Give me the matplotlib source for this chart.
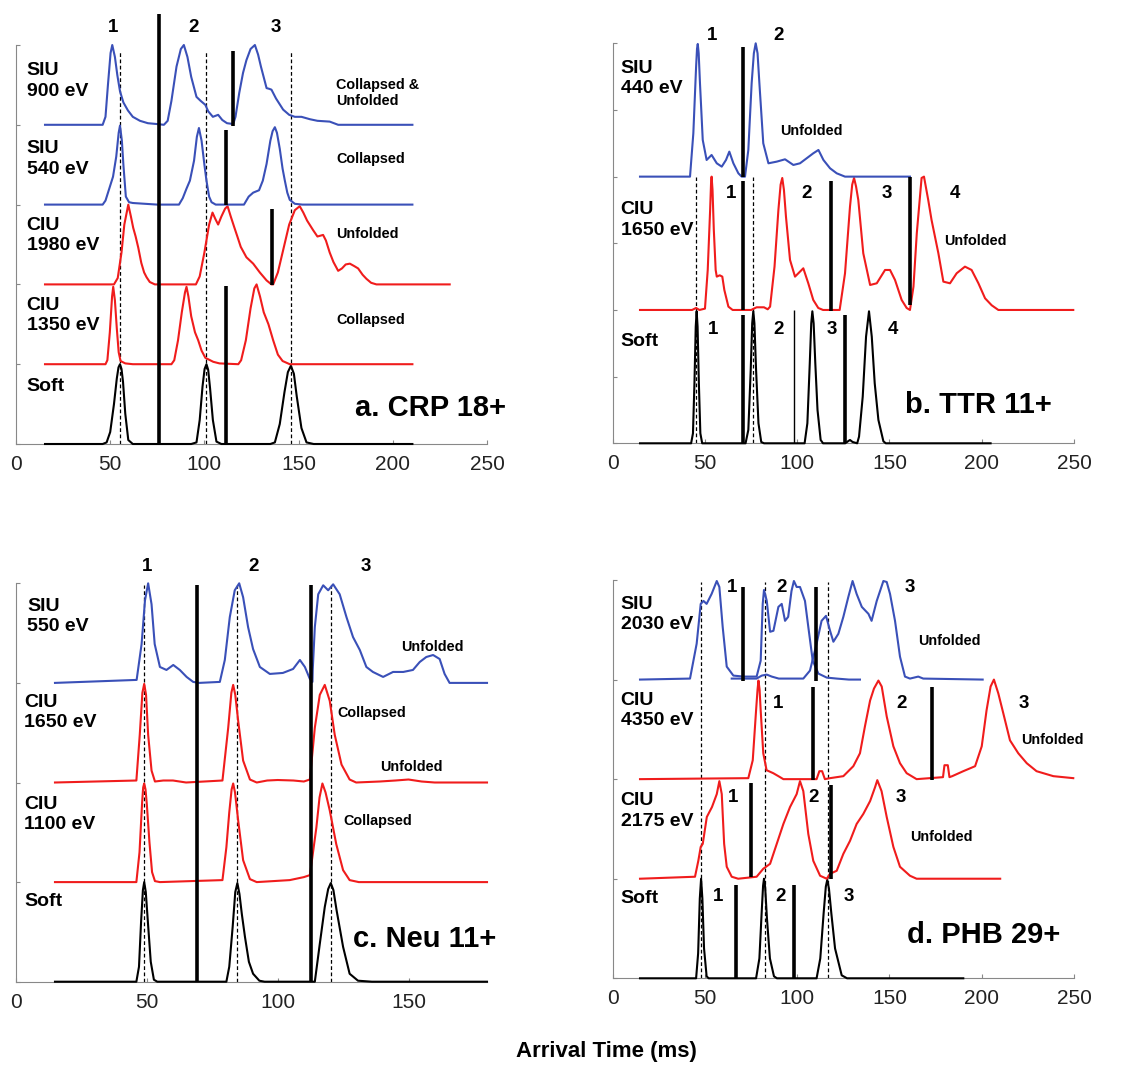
import numpy as np
import matplotlib
matplotlib.use("Agg")
import matplotlib.pyplot as plt

plt.rcParams['font.family'] = ['Liberation Sans', 'DejaVu Sans']

BLUE = '#3a50b8'
RED = '#f01c1c'

# ---------------- panel a: CRP 18+ (arrival time, relative height) ----------------
a_soft_t = [15.4, 46, 48.1, 50, 52, 53.5, 54.4, 55.2, 56, 56.8, 58, 59.6, 62, 93, 95.8, 97.5, 99, 100.1, 101.1, 102,
            103, 104.5, 106.4, 109, 135, 137.4, 140, 142.5, 144.3, 145.9, 147.5, 149, 151.5, 154.2, 158, 210.4]
a_soft_h = [0, 0, 0.02, 0.15, 0.5, 0.82, 0.96, 1.0, 0.94, 0.78, 0.38, 0.05, 0, 0, 0.02, 0.3, 0.72, 0.94, 1.0, 0.93,
            0.7, 0.3, 0.03, 0, 0, 0.02, 0.25, 0.65, 0.9, 0.98, 0.88, 0.6, 0.2, 0.02, 0, 0]
a_ciu1350_t = [15.4, 47.5, 48.5, 49.8, 51, 51.6, 52.5, 53.5, 54.5, 55.5, 58, 62, 82.5, 84, 86, 88, 89.7, 90.5, 91.5, 93,
               95, 96.7, 98.5, 100.5, 104.7, 108, 118, 119.5, 122, 124.5, 126.5, 127.7, 129.5, 131.5, 134, 136.5,
               139, 141.5, 145.3, 210.4]
a_ciu1350_h = [0, 0, 0.05, 0.4, 0.85, 0.97, 0.8, 0.45, 0.15, 0.04, 0.01, 0, 0, 0.05, 0.3, 0.65, 0.9, 0.97, 0.85, 0.6,
               0.4, 0.3, 0.17, 0.08, 0.03, 0.01, 0, 0.05, 0.3, 0.7, 0.95, 1.0, 0.85, 0.65, 0.5, 0.3,
               0.12, 0.04, 0, 0]
a_ciu1980_t = [15.4, 52, 54, 56, 57.5, 59.6, 61, 62.2, 63.5, 64.9, 66.5, 68, 69.3, 71, 73.7, 95.5, 97.5, 100, 102.5,
               104.3, 105.8, 107.3, 109, 111, 112.3, 114, 115.8, 117.5, 119.3, 122.3, 125.9, 129.4, 133, 135.6,
               136.5, 139, 142, 145, 148, 150.6, 152.5, 154.5, 157.7, 160, 163, 164.5, 166.5, 168.5, 171, 173, 175,
               177.2, 179.5, 181.6, 184, 186, 188.5, 191.3, 230.2]
a_ciu1980_h = [0, 0, 0.08, 0.4, 0.75, 1.0, 0.85, 0.71, 0.6, 0.46, 0.27, 0.15, 0.09, 0.03, 0, 0, 0.1, 0.4, 0.75,
               0.9, 0.82, 0.75, 0.85, 0.95, 0.98, 0.85, 0.72, 0.6, 0.47, 0.34, 0.26, 0.15, 0.05, 0,
               0, 0.15, 0.45, 0.75, 0.93, 0.98, 0.9, 0.8, 0.68, 0.6, 0.62, 0.55, 0.4, 0.28, 0.17, 0.2, 0.25,
               0.26, 0.23, 0.2, 0.12, 0.07, 0.02, 0, 0]
a_siu540_t = [15.4, 46, 47.5, 49.5, 51.5, 53.2, 54.5, 55.2, 56.2, 57, 58.3, 60, 62, 75, 86.5, 88.5, 90.5, 92.3, 94.5,
              96, 97.1, 98.5, 100, 101.1, 102.5, 103.8, 106, 121, 123.5, 125.9, 129, 131, 133, 135, 136.2, 137.4,
              138.5, 140, 141.5, 142.7, 144, 145.3, 148, 152, 210.4]
a_siu540_h = [0, 0, 0.05, 0.2, 0.35, 0.6, 0.9, 0.99, 0.8, 0.5, 0.1, 0.03, 0.02, 0, 0, 0.08, 0.2, 0.3, 0.55,
              0.85, 0.96, 0.8, 0.5, 0.3, 0.1, 0.03, 0, 0, 0.1, 0.15, 0.18, 0.3, 0.51, 0.8, 0.92, 0.97,
              0.9, 0.7, 0.45, 0.3, 0.15, 0.06, 0.01, 0, 0]
a_siu900_t = [15.4, 46, 47.5, 48.8, 50.2, 51.1, 52.5, 53.8, 55.2, 57, 59.4, 62, 65.8, 70, 74.6, 78.5, 80.5, 82.5,
              85.2, 87.5, 89.1, 91, 93, 95.8, 98, 100.5, 102, 104.5, 107.3, 109.5, 112, 115.3, 116.5, 118.5, 120.5,
              122.3, 124.5, 126.8, 128.5, 130, 133, 134.5, 135.6, 138, 141.8, 145, 148, 151.5, 156, 160, 166.5,
              171, 210.4]
a_siu900_h = [0, 0, 0.1, 0.5, 0.9, 1.0, 0.85, 0.62, 0.42, 0.28, 0.18, 0.1, 0.05, 0.02, 0.01, 0, 0.05, 0.3,
              0.73, 0.95, 1.0, 0.85, 0.6, 0.35, 0.3, 0.25, 0.17, 0.1, 0.125, 0.06, 0.02, 0.01, 0.1, 0.4, 0.65,
              0.81, 0.95, 1.0, 0.88, 0.73, 0.46, 0.45, 0.44, 0.33, 0.19, 0.125, 0.1, 0.1, 0.07, 0.05, 0.04,
              0, 0]
a_names = ['Soft', 'CIU\n1350 eV', 'CIU\n1980 eV', 'SIU\n540 eV', 'SIU\n900 eV']
a_states = ['', 'Collapsed', 'Unfolded', 'Collapsed', 'Collapsed &\nUnfolded']
a_cut_x = [76, 115.3, 111.7, 136.1, 111.4]
a_cut_lo = [0, 3.98, 3.0, 1.99, 0]
a_cut_hi = [5.39, 4.93, 3.93, 2.95, 1.98]
a_ref_x = [55.2, 101.1, 146.2]

# ---------------- panel b: TTR 11+ ----------------
b_soft_t = [14.8, 42.5, 43.5, 44.3, 45, 45.5, 46, 46.7, 47.5, 48.5, 72, 73.5, 74.8, 75.6, 76.2, 76.8, 77.7, 79, 80.5,
            82, 104, 105.5, 106.8, 107.6, 108.2, 108.9, 109.8, 111, 112.7, 114, 126, 127.5, 128.6, 130, 132.5,
            133.5, 135.5, 137.3, 138.9, 140.4, 142, 144, 146.7, 148, 204.8]
b_soft_h = [0, 0, 0.15, 0.9, 1.75, 1.98, 1.75, 0.9, 0.15, 0, 0, 0.2, 1.1, 1.8, 1.98, 1.8, 1.1, 0.3, 0.02,
            0, 0, 0.3, 1.2, 1.8, 1.98, 1.8, 1.2, 0.5, 0.05, 0, 0, 0.03, 0.05, 0.02, 0,
            0.1, 0.7, 1.6, 1.98, 1.6, 0.9, 0.35, 0.03, 0, 0]
b_ciu1650_t = [14.8, 43, 45.2, 47, 50, 51.5, 52.8, 53.3, 53.6, 54.1, 54.8, 55.8, 56.4, 58, 59.4, 60.5, 62.7, 65, 75,
               78, 82, 84, 85.3, 87.7, 89.8, 91, 91.9, 92.8, 93.9, 96.1, 98.8, 101.5, 103.3, 106, 108.7, 111.4,
               114, 123, 125.9, 128.6, 129.8, 130.8, 131.9, 133.1, 135.8, 139.5, 143.1, 147.6, 150.3, 153, 156.6,
               159.3, 161.1, 163, 164.8, 167.4, 168.7, 171, 172.8, 176.5, 179.2, 182.8, 186.4, 190.9, 194.5,
               198.2, 201.8, 205.4, 209, 249.6]
b_ciu1650_h = [0, 0, 0.03, 0, 0.02, 0.6, 1.5, 1.9, 2.0, 1.8, 1.2, 0.6, 0.5, 0.52, 0.5, 0.3, 0.05, 0, 0,
               0.04, 0.04, 0.01, 0.05, 0.65, 1.5, 1.88, 1.98, 1.8, 1.4, 0.75, 0.5, 0.575, 0.625, 0.4, 0.15, 0.03,
               0, 0, 0.55, 1.55, 1.88, 1.98, 1.85, 1.65, 0.85, 0.375, 0.4, 0.6, 0.6, 0.45, 0.15,
               0.03, 0, 0.35, 1.15, 1.98, 2.0, 1.65, 1.35, 0.85, 0.425, 0.4, 0.55, 0.65, 0.6,
               0.4, 0.175, 0.07, 0, 0]
b_siu440_t = [14.8, 41.9, 43.7, 45.2, 45.7, 46.1, 46.6, 47.3, 48.8, 50.9, 53.6, 56.4, 59.1, 61.4, 63.2, 65.4, 68.1,
              69.9, 71.7, 73.5, 75.3, 76.5, 77.5, 78.5, 79.5, 81.6, 84.4, 88.9, 93.4, 97.9, 101.5, 105.1, 108.7,
              111.5, 114.2, 117.8, 121.4, 125.9, 161.1]
b_siu440_h = [0, 0, 0.65, 1.65, 1.92, 1.99, 1.85, 1.4, 0.55, 0.25, 0.325, 0.2, 0.15, 0.25, 0.375, 0.2, 0.05,
              0, 0, 0.4, 1.4, 1.85, 2.0, 1.85, 1.4, 0.5, 0.2, 0.225, 0.26, 0.175, 0.2, 0.275, 0.35,
              0.4, 0.25, 0.125, 0.05, 0, 0]
b_names = ['Soft', 'CIU\n1650 eV', 'SIU\n440 eV']
b_cut_x = [70.4, 70.4, 70.4, 118.1, 161.1, 125.9]
b_cut_lo = [0, 2.0, 4.0, 1.98, 2.08, 0]
b_cut_hi = [1.93, 3.93, 5.95, 3.93, 4.0, 1.93]
b_thin_x = [98.3]
b_ref_x = [45.2, 76.2]

# ---------------- panel c: Neu 11+ ----------------
c_soft_t = [14.9, 46, 47, 47.8, 48.5, 49, 49.6, 50.4, 51.5, 52.7, 54, 80.4, 81.5, 82.8, 83.8, 84.6, 85.4, 86.3, 87.5,
            89, 90.6, 93, 95, 114.2, 116.1, 118, 119.3, 120.3, 121.3, 122.5, 125, 127.5, 130.7, 136, 180]
c_soft_h = [0, 0, 0.15, 0.6, 0.92, 1.0, 0.9, 0.6, 0.2, 0.02, 0, 0, 0.15, 0.55, 0.9, 0.99, 0.88, 0.68, 0.45,
            0.2, 0.08, 0.01, 0, 0, 0.38, 0.75, 0.93, 0.99, 0.92, 0.72, 0.35, 0.08, 0.01, 0, 0]
c_ciu1100_t = [14.9, 46, 47.2, 48.2, 48.6, 49, 49.5, 50, 51, 52, 53.1, 55, 78.9, 80.4, 81.5, 82.4, 83, 83.7, 84.9,
               86.8, 89.4, 92, 104.6, 110, 112.3, 113, 114.8, 116, 117.1, 118.3, 119.9, 122.4, 125, 127.5, 131,
               180]
c_ciu1100_h = [0, 0, 0.3, 0.8, 0.95, 0.99, 0.93, 0.78, 0.4, 0.1, 0.01, 0, 0.02, 0.35, 0.7, 0.93, 0.99, 0.9, 0.62,
               0.22, 0.03, 0, 0.02, 0.05, 0.07, 0.2, 0.55, 0.85, 0.99, 0.9, 0.72, 0.38, 0.12, 0.02, 0,
               0]
c_ciu1650_t = [14.9, 46, 47.3, 48.3, 49, 49.7, 50.5, 51.8, 53.1, 56.3, 60, 65, 78.9, 81.1, 82.3, 83, 83.8, 84.9, 86.8,
               89.4, 92, 96, 100, 106, 110, 112.3, 114.2, 116.1, 118, 119.9, 121.8, 124.4, 127.5, 130, 139, 145,
               150, 155, 160, 180]
c_ciu1650_h = [0, 0.02, 0.48, 0.9, 0.99, 0.88, 0.48, 0.12, 0.01, 0.02, 0.02, 0, 0.02, 0.55, 0.9, 0.98, 0.88, 0.62,
               0.22, 0.03, 0, 0.02, 0.025, 0.02, 0.01, 0.03, 0.55, 0.88, 0.98, 0.82, 0.48, 0.18, 0.03, 0, 0.01,
               0.02, 0.03, 0.01, 0, 0]
c_siu550_t = [14.9, 46.1, 48, 49.3, 50.5, 51.8, 53, 55, 57.5, 60.1, 62.6, 65.2, 67.7, 70, 77.9, 79.8, 81.7, 83.6,
              85.3, 86.8, 88.7, 90.6, 93.2, 97, 102, 105.9, 108.5, 110.4, 112.3, 113.3, 113.4, 114.2, 115.5,
              117.4, 119.3, 121.2, 123.7, 126.3, 128.8, 131.4, 133.9, 136.4, 140.3, 144.1, 148, 151.7, 154.3,
              156.8, 159.4, 161.9, 163.8, 165.7, 180]
c_siu550_h = [0, 0.03, 0.39, 0.83, 1.0, 0.79, 0.39, 0.16, 0.13, 0.18, 0.13, 0.06, 0.01, 0, 0.01, 0.23, 0.66, 0.93,
              1.0, 0.86, 0.56, 0.34, 0.16, 0.09, 0.1, 0.14, 0.23, 0.16, 0.04, 0.01, 0.13, 0.56, 0.89,
              0.98, 0.93, 0.99, 0.89, 0.66, 0.46, 0.33, 0.16, 0.11, 0.06, 0.11, 0.11, 0.13, 0.21,
              0.26, 0.28, 0.24, 0.09, 0, 0]
c_names = ['Soft', 'CIU\n1100 eV', 'CIU\n1650 eV', 'SIU\n550 eV']
c_cut_x = [69.0, 112.7]
c_ref_x = [49.0, 84.6, 120.3]

# ---------------- panel d: PHB 29+ ----------------
d_soft_t = [14.8, 45.2, 46.3, 47.2, 47.9, 48.6, 49.5, 50.9, 52, 77.7, 79.5, 80.7, 81.5, 82, 82.6, 83.6, 85.2, 87.4,
            89, 110.5, 112.5, 114.3, 115.5, 116.3, 117.2, 118.5, 120.5, 124.1, 127, 190]
d_soft_h = [0, 0, 0.25, 0.8, 1.0, 0.8, 0.3, 0.02, 0, 0, 0.2, 0.65, 0.93, 1.0, 0.92, 0.6, 0.2, 0.02,
            0, 0, 0.2, 0.65, 0.92, 0.99, 0.9, 0.65, 0.3, 0.03, 0, 0]
d_ciu2175_t = [14.8, 44.6, 46.4, 47.7, 48.8, 51, 53.8, 56.4, 57.8, 59.1, 60.4, 61.8, 64.5, 68, 78, 81.6, 85.3, 88.9,
               92.5, 96.1, 99.7, 101.5, 103.3, 106, 108.7, 112.4, 116, 117.8, 121.4, 125, 128.6, 132.2, 135.8,
               139.5, 142.2, 143.4, 145.7, 148.5, 152.1, 155.7, 161.1, 164.7, 210]
d_ciu2175_h = [0, 0.02, 0.18, 0.32, 0.35, 0.62, 0.72, 0.85, 0.98, 0.85, 0.35, 0.12, 0.02, 0, 0.02, 0.1, 0.15, 0.35,
               0.55, 0.72, 0.85, 0.98, 0.88, 0.45, 0.18, 0.03, 0, 0.05, 0.08, 0.25, 0.38, 0.55, 0.65,
               0.78, 0.92, 0.99, 0.88, 0.62, 0.32, 0.12, 0.03, 0, 0]
d_ciu4350_t = [14.8, 73.5, 75.9, 77.7, 78.5, 79, 79.6, 80.2, 81.6, 83.4, 87, 89.8, 92.5, 110.5, 112, 113.5, 115,
               117.8, 125, 130.4, 134, 136.7, 139.5, 141.6, 144, 145.8, 148.5, 152.1, 155.7, 159.3, 164.7, 179,
               179.8, 181.6, 182.5, 184, 190, 196.4, 200, 202.6, 204.8, 206.6, 209, 211.7, 215.3, 219.8, 224.4,
               229.7, 238.8, 249.6]
d_ciu4350_h = [0, 0.01, 0.19, 0.69, 0.9, 0.99, 0.9, 0.69, 0.26, 0.09, 0.06, 0.03, 0, 0, 0.08, 0.08, 0,
               0.01, 0.03, 0.13, 0.26, 0.53, 0.79, 0.91, 0.99, 0.93, 0.63, 0.33, 0.16, 0.06, 0, 0.02,
               0.14, 0.14, 0.02, 0.03, 0.08, 0.13, 0.33, 0.69, 0.93, 1.0, 0.86, 0.66, 0.39, 0.26, 0.16,
               0.08, 0.03, 0.01]
d_siu2030a_t = [14.8, 41.9, 45.5, 47.7, 49.2, 50.9, 53.6, 56.4, 57.8, 59.6, 61.8, 65.4, 70.8, 78, 80.2, 81.3, 82,
                83.5, 85.3, 87.1, 89.8, 91.6, 93.4, 95.1, 96.9, 98.2, 99.7, 101.5, 104.2, 106, 108.4, 111.5, 116,
                121.4, 128, 134]
d_siu2030a_h = [0, 0.01, 0.36, 0.76, 0.79, 0.76, 0.86, 0.99, 0.93, 0.53, 0.13, 0.04, 0.03, 0.03, 0.19, 0.76, 0.9,
                0.79, 0.48, 0.49, 0.73, 0.76, 0.59, 0.63, 0.89, 0.99, 0.93, 0.93, 0.79, 0.53, 0.19, 0.06, 0.02,
                0.01, 0, 0]
d_siu2030b_t = [64.5, 78, 80.8, 83.5, 86.2, 90, 103.3, 106.9, 110.5, 113.2, 115.6, 117.8, 119.6, 122.3, 125, 127.7,
                130, 132.2, 135, 138.6, 140.3, 143.1, 146.7, 148.5, 150.3, 153, 155.7, 158.4, 161.1, 165.6, 168.3,
                200.5]
d_siu2030b_h = [0.01, 0.01, 0.04, 0.05, 0.03, 0.01, 0.01, 0.09, 0.36, 0.59, 0.64, 0.49, 0.38, 0.46, 0.63, 0.83,
                0.99, 0.86, 0.73, 0.66, 0.59, 0.79, 0.99, 0.98, 0.86, 0.59, 0.23, 0.03, 0.01, 0.03, 0.01,
                0]
d_names = ['Soft', 'CIU\n2175 eV', 'CIU\n4350 eV', 'SIU\n2030 eV']
d_cut_x = [70.4, 110.2, 108.4, 173.2, 74.8, 118.1, 66.8, 98.4]
d_cut_lo = [2.99, 2.99, 1.99, 1.99, 1.02, 1.0, 0, 0]
d_cut_hi = [3.93, 3.93, 2.93, 2.93, 1.96, 1.94, 0.94, 0.94]
d_ref_x = [47.9, 82.4, 116.5]

W, H = 1142, 1066
fig = plt.figure(figsize=(W / 100, H / 100), dpi=100)


def make_axes(rect, xmax, ymax, xticks):
    ax = fig.add_axes(rect)
    ax.set_xlim(0, xmax)
    ax.set_ylim(0, ymax)
    for s in ['top', 'right']:
        ax.spines[s].set_visible(False)
    for s in ['bottom', 'left']:
        ax.spines[s].set_color('#888888')
        ax.spines[s].set_linewidth(0.8)
    ax.set_xticks(xticks)
    ax.set_yticks(range(ymax + 1))
    ax.set_yticklabels([])
    ax.tick_params(direction='in', length=3, color='#888888', width=0.8)
    ax.tick_params(axis='x', labelsize=15, pad=8, labelcolor='#222222')
    return ax


def trace(ax, t, h, off, color):
    ax.plot(t, np.array(h) + off, color=color, lw=1.5, clip_on=False, zorder=3)


def cut(ax, x, lo, hi, lw=2.6):
    ax.plot([x, x], [lo, hi], color='black', lw=lw, clip_on=False, solid_capstyle='butt', zorder=4)


def ref(ax, x, lo, hi):
    ax.plot([x, x], [lo, hi], color='black', lw=0.9, ls=(0, (3, 2)), clip_on=False, zorder=2)


def row_label(ax, x, y, s):
    ax.text(x, y, s, fontsize=14, fontweight='bold', ha='left', va='center', linespacing=1.25)


def small(ax, x, y, s, ha='left'):
    ax.text(x, y, s, fontsize=10.4, fontweight='bold', ha=ha, va='center', clip_on=False)


def num(ax, x, y, s):
    ax.text(x, y, s, fontsize=13.5, fontweight='bold', ha='center', va='center', clip_on=False)


ticks250 = [0, 50, 100, 150, 200, 250]

# panel a
ax = make_axes([16 / W, 1 - 444 / H, 471 / W, 399 / H], 250, 5, ticks250)
for x in a_ref_x:
    ref(ax, x, 0, 4.93)
for i, (t, h, c) in enumerate([(a_soft_t, a_soft_h, 'black'), (a_ciu1350_t, a_ciu1350_h, RED),
                               (a_ciu1980_t, a_ciu1980_h, RED), (a_siu540_t, a_siu540_h, BLUE),
                               (a_siu900_t, a_siu900_h, BLUE)]):
    trace(ax, t, h, i, c)
for x, lo, hi in zip(a_cut_x, a_cut_lo, a_cut_hi):
    cut(ax, x, lo, hi)
for y, s in zip([0.72, 1.61, 2.61, 3.57, 4.55], a_names):
    row_label(ax, 5.7, y, s)
for y, s in zip([0, 1.56, 2.63, 3.57, 4.4], a_states):
    if s:
        small(ax, 170, y, s)
for x, s in zip([51.6, 94, 138], ['1', '2', '3']):
    num(ax, x, 5.22, s)
ax.text(260, 0.45, 'a. CRP 18+', fontsize=21, fontweight='bold', ha='right', va='center', clip_on=False)

# panel b
ax = make_axes([612.7 / W, 1 - 443.3 / H, 461.3 / W, 400 / H], 250, 6, ticks250)
for x in b_ref_x:
    ref(ax, x, 0, 4)
for i, (t, h, c) in enumerate([(b_soft_t, b_soft_h, 'black'), (b_ciu1650_t, b_ciu1650_h, RED),
                               (b_siu440_t, b_siu440_h, BLUE)]):
    trace(ax, t, h, 2 * i, c)
for x, lo, hi in zip(b_cut_x, b_cut_lo, b_cut_hi):
    cut(ax, x, lo, hi)
for x in b_thin_x:
    cut(ax, x, 0, 2.0, lw=1.0)
for y, s in zip([1.53, 3.35, 5.47], b_names):
    row_label(ax, 4.3, y, s)
small(ax, 91, 4.69, 'Unfolded')
small(ax, 179.6, 3.03, 'Unfolded')
for x, s in zip([53.6, 89.8], ['1', '2']):
    num(ax, x, 6.11, s)
for x, s in zip([63.9, 105.1, 148.5, 185.5], ['1', '2', '3', '4']):
    num(ax, x, 3.75, s)
for x, s in zip([54.2, 89.8, 119, 152.1], ['1', '2', '3', '4']):
    num(ax, x, 1.71, s)
ax.text(237.9, 0.58, 'b. TTR 11+', fontsize=21, fontweight='bold', ha='right', va='center', clip_on=False)

# panel c
ax = make_axes([16 / W, 1 - 981.7 / H, 471 / W, 398.4 / H], 180, 4, [0, 50, 100, 150])
for x in c_ref_x:
    ref(ax, x, 0, 3.98)
for i, (t, h, c) in enumerate([(c_soft_t, c_soft_h, 'black'), (c_ciu1100_t, c_ciu1100_h, RED),
                               (c_ciu1650_t, c_ciu1650_h, RED), (c_siu550_t, c_siu550_h, BLUE)]):
    trace(ax, t, h, i, c)
for x in c_cut_x:
    cut(ax, x, 0, 3.98)
for y, s, x in zip([0.81, 1.68, 2.7, 3.67], c_names, [3.1, 3.1, 3.1, 4.3]):
    row_label(ax, x, y, s)
small(ax, 147.3, 3.36, 'Unfolded')
small(ax, 122.7, 2.7, 'Collapsed')
small(ax, 139, 2.16, 'Unfolded')
small(ax, 125, 1.61, 'Collapsed')
for x, s in zip([49.9, 90.9, 133.5], ['1', '2', '3']):
    num(ax, x, 4.17, s)
ax.text(183.6, 0.43, 'c. Neu 11+', fontsize=21, fontweight='bold', ha='right', va='center', clip_on=False)

# panel d
ax = make_axes([612.7 / W, 1 - 978.3 / H, 461.3 / W, 398.3 / H], 250, 4, ticks250)
for x in d_ref_x:
    ref(ax, x, 0, 3.98)
trace(ax, d_soft_t, d_soft_h, 0, 'black')
trace(ax, d_ciu2175_t, d_ciu2175_h, 1, RED)
trace(ax, d_ciu4350_t, d_ciu4350_h, 2, RED)
trace(ax, d_siu2030a_t, d_siu2030a_h, 3, BLUE)
trace(ax, d_siu2030b_t, d_siu2030b_h, 3, BLUE)
for x, lo, hi in zip(d_cut_x, d_cut_lo, d_cut_hi):
    cut(ax, x, lo, hi)
for y, s in zip([0.8, 1.68, 2.69, 3.65], d_names):
    row_label(ax, 4.3, y, s)
small(ax, 165.6, 3.39, 'Unfolded')
small(ax, 221.6, 2.39, 'Unfolded')
small(ax, 161.1, 1.42, 'Unfolded')
for x, s in zip([64.5, 91.6, 161.1], ['1', '2', '3']):
    num(ax, x, 3.92, s)
for x, s in zip([89.8, 156.3, 222.9], ['1', '2', '3']):
    num(ax, x, 2.76, s)
for x, s in zip([65, 109.1, 156.3], ['1', '2', '3']):
    num(ax, x, 1.82, s)
for x, s in zip([56.9, 91, 127.9], ['1', '2', '3']):
    num(ax, x, 0.82, s)
ax.text(242.4, 0.43, 'd. PHB 29+', fontsize=21, fontweight='bold', ha='right', va='center', clip_on=False)

fig.text(606 / W, 1 - 1052 / H, 'Arrival Time (ms)', fontsize=16, fontweight='bold', ha='center', va='center')

fig.savefig('out.png', dpi=100)
